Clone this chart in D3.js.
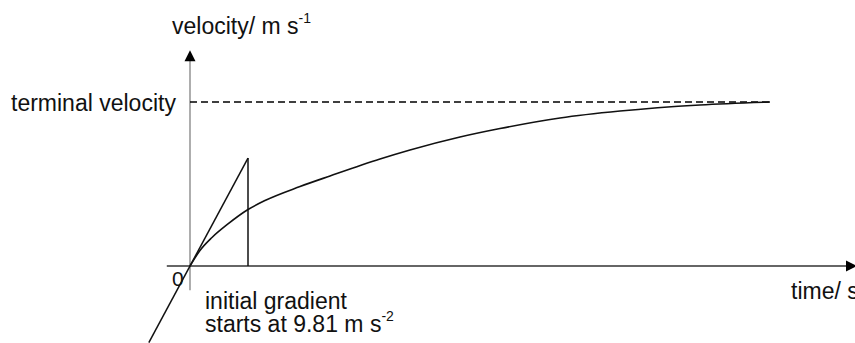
<!DOCTYPE html>
<html>
<head>
<meta charset="utf-8">
<script src="https://cdn.jsdelivr.net/npm/d3@7"></script>
<style>
  html, body { margin: 0; padding: 0; background: #fff; }
  svg { display: block; }
  text { font-family: "Liberation Sans", Arial, sans-serif; fill: #111; }
</style>
</head>
<body>
<svg id="chart" width="855" height="343"></svg>
<script>
// ---- data (time in s, velocity in m/s) ----
const curveTime     = [0, 0.172, 0.379, 0.655, 1.0, 1.293, 1.897, 2.414, 3.276, 3.793, 4.655, 5.345, 6.379, 7.414, 8.793, 10.0];
const curveVelocity = [0, 1.41, 2.59, 3.82, 5.13, 5.95, 7.22, 8.18, 9.72, 10.54, 11.72, 12.49, 13.45, 14.08, 14.63, 14.9];
const terminalVelocity = 14.9;
const terminalEndTime = 10.0;
const initialGradient = 9.81;        // m s^-2
const tangentTime = [-0.71, 1.0];    // tangent drawn from below origin up to apex
const axisXRange = [-0.4, 11.5];
const axisYRange = [-2.2, 19.6];
const labels = {
  yAxis: "velocity/ m s",
  yAxisSup: "-1",
  xAxis: "time/ s",
  terminal: "terminal velocity",
  origin: "0",
  note1: "initial gradient",
  note2: "starts at 9.81 m s",
  note2Sup: "-2"
};

const svg = d3.select("#chart");
const x = d3.scaleLinear().domain([0, terminalEndTime]).range([190, 770]);
const y = d3.scaleLinear().domain([0, terminalVelocity]).range([266, 102]);

// y axis (grey, thin)
svg.append("line")
  .attr("x1", x(0)).attr("x2", x(0))
  .attr("y1", y(axisYRange[0])).attr("y2", y(axisYRange[1]) + 8)
  .attr("stroke", "#777").attr("stroke-width", 1.2);
svg.append("path")
  .attr("d", `M${x(0)},${y(axisYRange[1])} L${x(0) - 5.5},${y(axisYRange[1]) + 11} L${x(0) + 5.5},${y(axisYRange[1]) + 11} Z`)
  .attr("fill", "#000");

// x axis
const xEnd = x(axisXRange[1]);
svg.append("line")
  .attr("x1", x(axisXRange[0])).attr("x2", xEnd - 8)
  .attr("y1", y(0)).attr("y2", y(0))
  .attr("stroke", "#333").attr("stroke-width", 1.5);
svg.append("path")
  .attr("d", `M${xEnd},${y(0)} L${xEnd - 11},${y(0) - 5.5} L${xEnd - 11},${y(0) + 5.5} Z`)
  .attr("fill", "#000");

// terminal velocity dashed line
svg.append("line")
  .attr("x1", x(0)).attr("x2", x(terminalEndTime))
  .attr("y1", y(terminalVelocity)).attr("y2", y(terminalVelocity))
  .attr("stroke", "#000").attr("stroke-width", 1.5)
  .attr("stroke-dasharray", "7,4");

// velocity curve
const pts = curveTime.map((t, i) => [t, curveVelocity[i]]);
svg.append("path")
  .datum(pts)
  .attr("d", d3.line().x(d => x(d[0])).y(d => y(d[1])).curve(d3.curveMonotoneX))
  .attr("fill", "none").attr("stroke", "#111").attr("stroke-width", 1.6);

// tangent (initial gradient)
const tanPts = tangentTime.map(t => [t, initialGradient * t]);
svg.append("path")
  .datum(tanPts)
  .attr("d", d3.line().x(d => x(d[0])).y(d => y(d[1])))
  .attr("fill", "none").attr("stroke", "#111").attr("stroke-width", 1.5);

// vertical drop from apex
svg.append("line")
  .attr("x1", x(tangentTime[1])).attr("x2", x(tangentTime[1]))
  .attr("y1", y(initialGradient * tangentTime[1])).attr("y2", y(0))
  .attr("stroke", "#111").attr("stroke-width", 1.5);

// texts
const fs = 23, fsSup = 14;
const yl = svg.append("text").attr("x", 172).attr("y", 34).attr("font-size", fs);
yl.append("tspan").text(labels.yAxis);
yl.append("tspan").attr("dy", -11).attr("font-size", fsSup).text(labels.yAxisSup);

svg.append("text").attr("x", 11).attr("y", 111).attr("font-size", fs).text(labels.terminal);
svg.append("text").attr("x", 172).attr("y", 286).attr("font-size", fs - 2).text(labels.origin);
svg.append("text").attr("x", 791).attr("y", 299).attr("font-size", fs).text(labels.xAxis);
svg.append("text").attr("x", 205).attr("y", 309).attr("font-size", fs).text(labels.note1);
const n2 = svg.append("text").attr("x", 205).attr("y", 332).attr("font-size", fs);
n2.append("tspan").text(labels.note2);
n2.append("tspan").attr("dy", -11).attr("font-size", fsSup).text(labels.note2Sup);
</script>
</body>
</html>
